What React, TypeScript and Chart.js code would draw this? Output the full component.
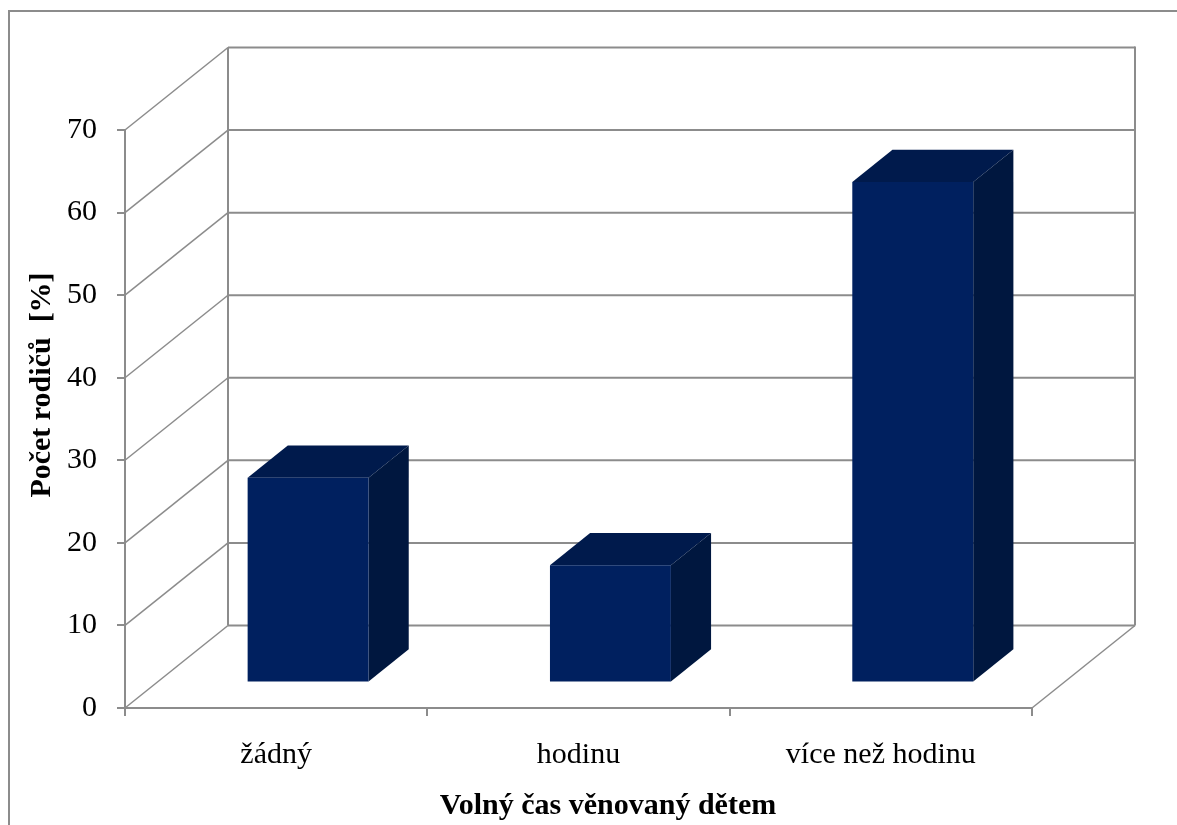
import React, { useEffect, useRef } from "react";
import { Chart, registerables } from "chart.js";

Chart.register(...registerables);

// Data
const categories = ["žádný", "hodinu", "více než hodinu"];
const parentShare = [24.8, 14.2, 60.6];
const yTickValues = [0, 10, 20, 30, 40, 50, 60, 70];
const yTitle = "Počet rodičů  [%]";
const xTitle = "Volný čas věnovaný dětem";

// Canvas and 3D projection styling
const W = 1177;
const H = 825;
const DX = 103; // depth of the walls, horizontal
const DY = -82.5; // depth of the walls, vertical
const BAR_FRONT = 0.31; // bar front plane as fraction of depth
const BAR_BACK = 0.7; // bar back plane as fraction of depth
const GRID = "#8c8c8c";
const FRONT = "#00205f";
const TOP = "#001a4c";
const SIDE = "#00173f";
const SERIF = "'Liberation Serif', 'Times New Roman', serif";

function line(ctx: CanvasRenderingContext2D, x1: number, y1: number, x2: number, y2: number) {
  ctx.beginPath();
  ctx.moveTo(x1, y1);
  ctx.lineTo(x2, y2);
  ctx.stroke();
}

function poly(ctx: CanvasRenderingContext2D, pts: number[][]) {
  ctx.beginPath();
  ctx.moveTo(pts[0][0], pts[0][1]);
  for (let i = 1; i < pts.length; i++) ctx.lineTo(pts[i][0], pts[i][1]);
  ctx.closePath();
  ctx.fill();
}

const box3d = {
  id: "box3d",
  beforeDraw(chart: any) {
    const { ctx } = chart;
    ctx.save();
    ctx.fillStyle = "#ffffff";
    ctx.fillRect(0, 0, W, H);
    ctx.strokeStyle = GRID;
    ctx.lineWidth = 2;
    ctx.beginPath();
    ctx.moveTo(9, H);
    ctx.lineTo(9, 11);
    ctx.lineTo(W, 11);
    ctx.stroke();
    ctx.restore();
  },
  beforeDatasetsDraw(chart: any) {
    const { ctx, chartArea, scales } = chart;
    const { left, right, top, bottom } = chartArea;
    const y = scales.y;
    ctx.save();
    ctx.strokeStyle = GRID;
    // side wall diagonals
    ctx.lineWidth = 1.5;
    for (const t of yTickValues) {
      const py = y.getPixelForValue(t);
      line(ctx, left, py, left + DX, py + DY);
    }
    // floor, right edge
    line(ctx, right, bottom, right + DX, bottom + DY);
    // back wall gridlines
    ctx.lineWidth = 2;
    for (const t of yTickValues) {
      const py = y.getPixelForValue(t) + DY;
      line(ctx, left + DX, py, right + DX, py);
    }
    // back wall edges
    line(ctx, left + DX, top + DY, left + DX, bottom + DY);
    line(ctx, right + DX, top + DY - 1, right + DX, bottom + DY);
    ctx.restore();
  },
  beforeDatasetDraw(chart: any, args: any) {
    const { ctx } = chart;
    ctx.save();
    ctx.translate(DX * BAR_FRONT, DY * BAR_FRONT);
    const dx = DX * (BAR_BACK - BAR_FRONT);
    const dy = DY * (BAR_BACK - BAR_FRONT);
    for (const el of args.meta.data) {
      const { x, y, base, width } = el.getProps(["x", "y", "base", "width"], true);
      const l = x - width / 2;
      const r = x + width / 2;
      ctx.fillStyle = TOP;
      poly(ctx, [[l, y], [l + dx, y + dy], [r + dx, y + dy], [r, y]]);
      ctx.fillStyle = SIDE;
      poly(ctx, [[r, y], [r + dx, y + dy], [r + dx, base + dy], [r, base]]);
    }
  },
  afterDatasetDraw(chart: any) {
    chart.ctx.restore();
  },
  afterDraw(chart: any) {
    const { ctx } = chart;
    ctx.save();
    ctx.fillStyle = "#000";
    ctx.font = `bold 30px ${SERIF}`;
    ctx.textAlign = "center";
    ctx.textBaseline = "alphabetic";
    ctx.fillText(xTitle, 608, 814);
    ctx.translate(50, 385);
    ctx.rotate(-Math.PI / 2);
    ctx.fillText(yTitle, 0, 0);
    ctx.restore();
  },
};

export default function App() {
  const ref = useRef<HTMLCanvasElement | null>(null);

  useEffect(() => {
    if (!ref.current) return;
    const chart = new Chart(ref.current, {
      type: "bar",
      data: {
        labels: categories,
        datasets: [
          {
            data: parentShare,
            backgroundColor: FRONT,
            borderWidth: 0,
            barPercentage: 0.4,
            categoryPercentage: 1,
          },
        ],
      },
      options: {
        responsive: false,
        animation: false,
        layout: { padding: { left: 0, top: 130, right: 145, bottom: 0 } },
        plugins: {
          legend: { display: false },
          tooltip: { enabled: false },
        },
        scales: {
          x: {
            type: "category",
            afterFit: (s: any) => {
              s.height = 117;
            },
            grid: {
              offset: true,
              drawOnChartArea: false,
              drawTicks: true,
              tickLength: 8,
              color: GRID,
              lineWidth: 2,
            },
            border: { display: true, color: GRID, width: 2 },
            ticks: {
              color: "#000",
              padding: 21,
              font: { family: SERIF, size: 30 },
              maxRotation: 0,
            },
          },
          y: {
            min: 0,
            max: 70,
            afterFit: (s: any) => {
              s.width = 125;
            },
            grid: {
              drawOnChartArea: false,
              drawTicks: true,
              tickLength: 8,
              color: GRID,
              lineWidth: 2,
            },
            border: { display: true, color: GRID, width: 2 },
            ticks: {
              stepSize: 10,
              color: "#000",
              padding: 20,
              font: { family: SERIF, size: 30 },
            },
          },
        },
      },
      plugins: [box3d],
    });
    return () => chart.destroy();
  }, []);

  return (
    <div style={{ position: "absolute", left: 0, top: 0, width: W, height: H }}>
      <canvas ref={ref} width={W} height={H} />
    </div>
  );
}
